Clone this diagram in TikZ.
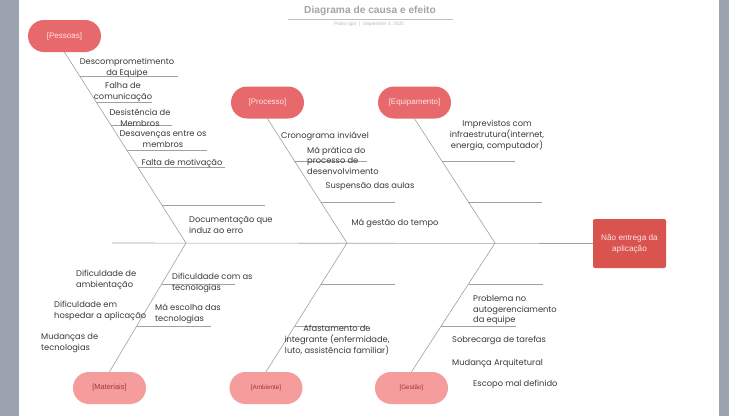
\documentclass[tikz,border=0pt]{standalone}
\usepackage{fontspec}
\setmainfont{Poppins}
\newfontfamily\boxfont{Liberation Sans}
\usetikzlibrary{calc}
\definecolor{margin}{HTML}{9BA3AE}
\definecolor{topbox}{HTML}{E8696B}
\definecolor{botbox}{HTML}{F59C9C}
\definecolor{effbox}{HTML}{D9534F}
\definecolor{bone}{HTML}{A0A0A0}
\definecolor{txt}{HTML}{3A3A3A}
\tikzset{
  x=1pt, y=-1pt,
  pill/.style={draw=none, fill=topbox, minimum width=73pt, minimum height=32pt, rounded corners=16pt, text={rgb,255:red,255;green,228;blue,228}, font=\boxfont\fontsize{8}{9}\selectfont, inner sep=0pt},
  botpill/.style={pill, fill=botbox, text={rgb,255:red,170;green,50;blue,50}, font=\boxfont\fontsize{7.4}{9}\selectfont},
  smallpill/.style={botpill, font=\boxfont\fontsize{6.3}{8}\selectfont},
  effect/.style={draw=none, fill=effbox, minimum width=73pt, minimum height=49pt, rounded corners=2pt, text={rgb,255:red,255;green,228;blue,228}, align=center, font=\boxfont\fontsize{8.2}{11}\selectfont, inner sep=0pt},
  bonel/.style={draw=bone, line width=0.6pt},
  ribl/.style={draw=bone, line width=0.6pt},
  cause/.style={text=txt, font=\fontsize{8.3}{10.8}\selectfont, inner sep=0pt, align=center, yshift=-1.2pt},
  causel/.style={cause, align=left, anchor=west},
}
\begin{document}
\begin{tikzpicture}
\fill[margin] (0,0) rectangle (729,416);
\fill[white] (19,0) rectangle (719,416);
\useasboundingbox (0,0) rectangle (729,416);

% title
\node[text={rgb,255:red,165;green,165;blue,165}, font=\boxfont\bfseries\fontsize{10.2}{12}\selectfont, inner sep=0pt] (title) at (370,11) {Diagrama de causa e efeito};
\coordinate (tl) at (288,19);
\coordinate (tr) at (453,19);
\draw[draw={rgb,255:red,190;green,190;blue,190}, line width=0.6pt] (tl) -- (tr);
\node[text={rgb,255:red,185;green,185;blue,185}, font=\boxfont\fontsize{4.8}{6}\selectfont, inner sep=0pt] (sub) at (369,24.5) {Pedro Igor \ | \ September 4, 2020};

% category boxes
\node[pill] (pessoas) at (64.5,36) {[Pessoas]};
\node[pill] (processo) at (267.5,102.5) {[Processo]};
\node[pill] (equip) at (414.5,102.5) {[Equipamento]};
\node[botpill] (materiais) at (109.5,388) {[Materiais]};
\node[smallpill] (ambiente) at (266,388) {[Ambiente]};
\node[smallpill] (gestao) at (411.5,388) {[Gestão]};
\node[effect] (effect) at (629.5,243.5) {Não entrega da\\aplicação};

% spine and junctions
\coordinate (sL) at (112,243);
\coordinate (jA) at (186,243);
\coordinate (jB) at (347,243);
\coordinate (jC) at (495,243);
\draw[bonel] (sL) -- (effect.west);
\draw[bonel] (pessoas.south) -- (jA) -- (materiais.north);
\draw[bonel] (processo.south) -- (jB) -- (ambiente.north);
\draw[bonel] (equip.south) -- (jC) -- (gestao.north);

% ribs
\foreach \n/\a/\b/\y in {p1/80/178/76, p2/96/152/102, p3/111/172/125, p4/127/207/150, p5/138/225/167, p6/162/265/205,
  r1/294/367/161, r2/321/395/202, e1/442/515/161, e2/468/542/202,
  m1/162/235/284, m2/137/211/326, a1/321/395/284, a2/295/368/326, g1/468.5/543/284, g2/441/516/326}{
  \coordinate (\n s) at (\a,\y);
  \coordinate (\n e) at (\b,\y);
  \draw[ribl] (\n s) -- (\n e);
}

% causes
\node[cause] (t1) at (127,66.5) {Descomprometimento\\da Equipe};
\node[cause] (t2) at (123,90.5) {Falha de\\comunicação};
\node[cause] (t3) at (140,116.5) {Desistência de\\Membros};
\node[cause] (t4) at (163,138) {Desavenças entre os\\membros};
\node[cause] (t5) at (182,162) {Falta de motivação};
\node[causel] (t6) at (189,223.5) {Documentação que\\induz ao erro};
\node[cause] (t7) at (325,135) {Cronograma inviável};
\node[causel] (t8) at (307,159.5) {Má prática do\\processo de\\desenvolvimento};
\node[cause] (t9) at (370,185) {Suspensão das aulas};
\node[cause] (t10) at (395,222) {Má gestão do tempo};
\node[cause] (t11) at (497,134.5) {Imprevistos com\\infraestrutura(internet,\\energia, computador)};
\node[causel] (t12) at (172,281.5) {Dificuldade com as\\tecnologias};
\node[causel] (t13) at (155,313) {Má escolha das\\tecnologias};
\node[causel] (t14) at (76,278.5) {Dificuldade de\\ambientação};
\node[causel] (t15) at (54,310) {Dificuldade em\\hospedar a aplicação};
\node[causel] (t16) at (41,341.5) {Mudanças de\\tecnologias};
\node[cause] (t17) at (337,339) {Afastamento de\\integrante (enfermidade,\\luto, assistência familiar)};
\node[causel] (t18) at (473,309) {Problema no\\autogerenciamento\\da equipe};
\node[causel] (t19) at (452,339) {Sobrecarga de tarefas};
\node[causel] (t20) at (452,362) {Mudança Arquitetural};
\node[causel] (t21) at (473,383) {Escopo mal definido};
\end{tikzpicture}
\end{document}
